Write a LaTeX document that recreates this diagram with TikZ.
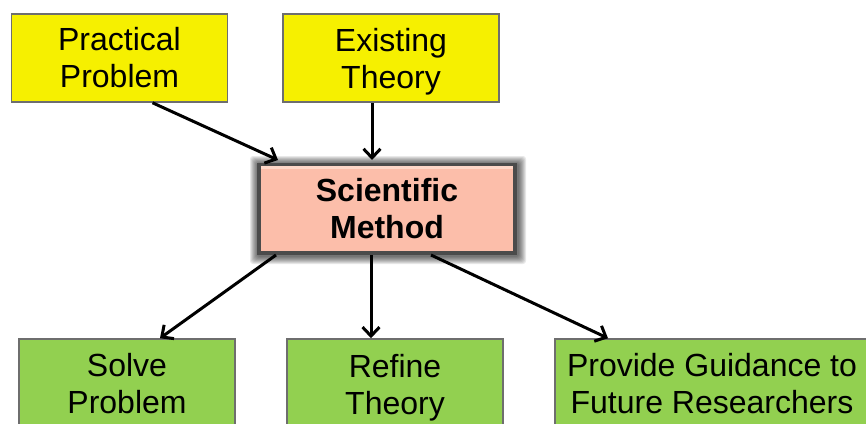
\documentclass[tikz,border=0pt]{standalone}
\usepackage{fontspec}
\setmainfont{Liberation Sans}
\usetikzlibrary{arrows.meta,backgrounds}
\definecolor{boxyellow}{RGB}{246,240,0}
\definecolor{boxgreen}{RGB}{146,208,80}
\definecolor{boxsalmon}{RGB}{252,190,170}
\definecolor{boxhilite}{RGB}{255,215,200}
\definecolor{boxgray}{RGB}{110,110,110}
\definecolor{smgray}{RGB}{75,75,75}
\newcommand{\nodepth}[1]{\raisebox{0pt}[\height][0pt]{#1}}
\begin{document}
\begin{tikzpicture}[x=1pt,y=1pt,
  box/.style={draw=boxgray, line width=1.5pt, inner sep=0pt, align=center,
    minimum width=216pt, font=\fontsize{32}{37}\selectfont},
  topbox/.style={box, fill=boxyellow, minimum height=88pt},
  botbox/.style={box, fill=boxgreen, minimum height=90pt},
  smbox/.style={draw=smgray, line width=4pt, fill=boxsalmon, inner sep=0pt,
    align=center, minimum width=256pt, minimum height=88pt,
    font=\fontsize{32}{37}\selectfont\bfseries},
  glow/.style={fill=black, fill opacity=0.09, rounded corners=3pt},
  conn/.style={line width=3pt, -{Straight Barb[length=9pt,width=17pt]}}
]
\useasboundingbox (0,0) rectangle (866,-423);
\clip (0,0) rectangle (866,-423);

\node[topbox] (pp) at (119.5,-58) {Practical\\Problem};
\node[topbox] (et) at (391,-58) {Existing\\\nodepth{Theory}};
\node[smbox] (sm) at (387,-209) {Scientific\\Method};
\draw[boxhilite, line width=2.5pt]
  ([xshift=4pt,yshift=-4.5pt]sm.north west) -- ([xshift=-4pt,yshift=-4.5pt]sm.north east);
\node[botbox] (sp) at (127,-384) {Solve\\Problem};
\node[botbox] (rt) at (395,-384) {Refine\\\nodepth{Theory}};
\node[botbox, minimum width=314pt] (pg) at (712,-384) {Provide Guidance to\\Future Researchers};

\begin{pgfonlayer}{background}
  \fill[white] (0,0) rectangle (866,-423);
  \foreach \d in {1,2,...,8}{
    \fill[glow] ([xshift=-\d pt+1pt,yshift=\d pt-1pt]sm.north west)
      rectangle ([xshift=\d pt+1pt,yshift=-\d pt-1pt]sm.south east);
  }
\end{pgfonlayer}

\draw[conn] ([xshift=33pt]pp.south) -- ([xshift=-109pt,yshift=3pt]sm.north);
\draw[conn] ([xshift=-19pt]et.south) -- ([xshift=-19pt,yshift=3pt]et.south |- sm.north);
\draw[conn] ([xshift=-111pt]sm.south) -- ([xshift=33pt]sp.north);
\draw[conn] ([xshift=-16pt]sm.south) -- ([xshift=-16pt]sm.south |- rt.north);
\draw[conn] ([xshift=44pt]sm.south) -- ([xshift=-104pt]pg.north);
\end{tikzpicture}
\end{document}
